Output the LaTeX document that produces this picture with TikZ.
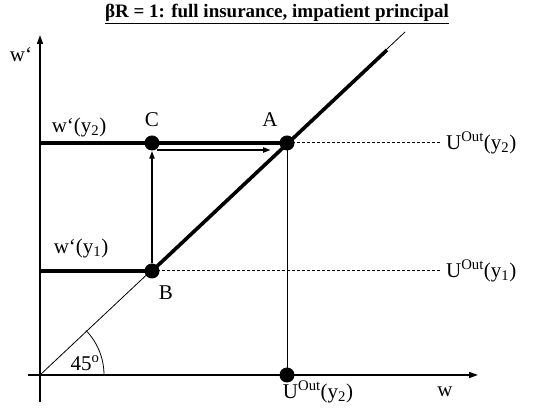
\documentclass[tikz,border=0pt]{standalone}
\usepackage{fontspec}
\setmainfont{Liberation Serif}
\usetikzlibrary{arrows.meta}

\tikzset{
  dot/.style={circle, fill=black, inner sep=0pt, minimum size=15pt},
  heavy/.style={line width=3.6pt},
  thinline/.style={line width=0.8pt},
  axis/.style={line width=1.6pt, -{Triangle[length=9pt,width=6pt]}},
  move/.style={line width=2pt, -{Triangle[length=8pt,width=5pt]}},
  outside/.style={line width=1pt, dash pattern=on 3pt off 2pt},
  lbl/.style={font=\fontsize{21}{24}\selectfont, inner sep=1pt}
}

\begin{document}
\begin{tikzpicture}[x=1pt, y=1pt, every node/.style={lbl}]
    \useasboundingbox (-40,-34) rectangle (514,375);

    % Title
    \node[font=\fontsize{19}{22}\selectfont\bfseries] (title) at (237,361)
        {\underline{βR = 1: full insurance, impatient principal}};

    % Axes
    \coordinate (O) at (0,0);
    \draw[axis] (0,-27) -- (0,340);
    \draw[axis] (-12,0) -- (438,0);
    \node (wlab) at (-19,320) {w‘};
    \node (xlab) at (405,-17) {w};

    % Points
    \node[dot] (B) at (112,104) {};
    \node[dot] (C) at (112,232) {};
    \node[dot] (A) at (247,232) {};
    \node[dot] (D) at (247,0) {};
    \coordinate (W1) at (0,104);
    \coordinate (W2) at (0,232);
    \coordinate (E1) at (400,104);
    \coordinate (E2) at (400,232);
    \coordinate (Top) at (365,343);
    \coordinate (TopHeavy) at (347,325);

    % 45 degree line
    \draw[thinline] (O) -- (Top);
    \draw[heavy] (B.center) -- (TopHeavy);
    \draw[thinline] (O) ++(64,0) arc (0:44:64);
    \node (angle) at (45,12) {45\textsuperscript{o}};

    % Wage levels
    \draw[heavy] (W2) -- (A.center);
    \draw[heavy] (W1) -- (B.center);
    \draw[outside] (A.center) -- (E2);
    \draw[outside] (B.center) -- (E1);
    \draw[thinline] (A.center) -- (D.center);

    % Moves
    \draw[move] (B) -- (C);
    \draw[move] ([shift={(5,-7)}]C.center) -- ([shift={(-16,-7)}]A.center);

    % Labels
    \node (lw2) at (39,248) {w‘(y\textsubscript{2})};
    \node (lw1) at (41,127) {w‘(y\textsubscript{1})};
    \node (lC) at (112,255) {C};
    \node (lA) at (230,255) {A};
    \node (lB) at (126,82) {B};
    \node[anchor=west] (u2) at (405,232) {U\textsuperscript{Out}(y\textsubscript{2})};
    \node[anchor=west] (u1) at (405,104) {U\textsuperscript{Out}(y\textsubscript{1})};
    \node (ud) at (278,-17) {U\textsuperscript{Out}(y\textsubscript{2})};
\end{tikzpicture}
\end{document}
